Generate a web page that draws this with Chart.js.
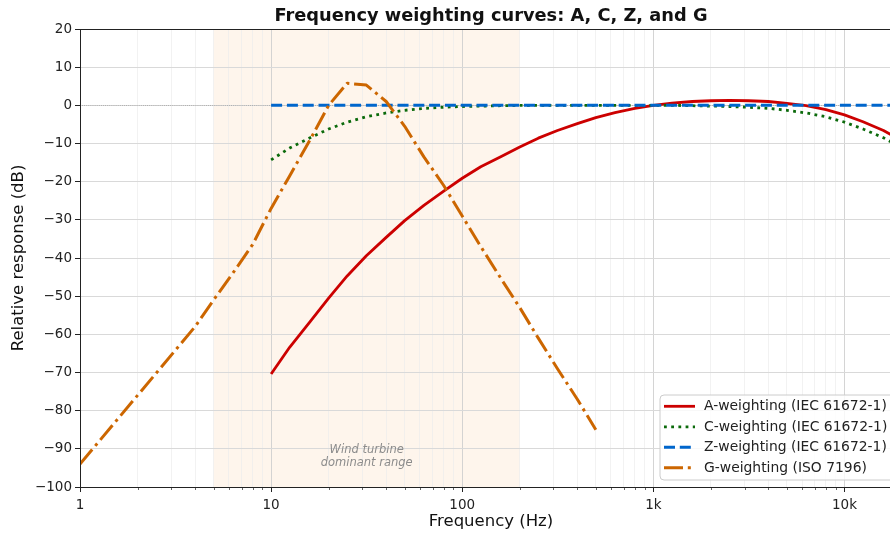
<!DOCTYPE html>
<html>
<head>
<meta charset="utf-8">
<script src="https://cdn.jsdelivr.net/npm/chart.js@4.4.0/dist/chart.umd.min.js"></script>
<style>
  html, body { margin: 0; padding: 0; background: #fff; overflow: hidden; }
  #wrap { width: 910px; height: 533px; }
</style>
</head>
<body>
<div id="wrap"><canvas id="myChart" width="910" height="533"></canvas></div>
<script>
// third-octave band centres used for A, C and Z
const freqBands = [10, 12.5, 16, 20, 25, 31.5, 40, 50, 63, 80, 100, 125, 160, 200, 250, 315, 400, 500,
  630, 800, 1000, 1250, 1600, 2000, 2500, 3150, 4000, 5000, 6300, 8000, 10000, 12500, 16000, 20000];
const aWeight = [-70.4, -63.4, -56.7, -50.5, -44.7, -39.4, -34.6, -30.2, -26.2, -22.5, -19.1, -16.1, -13.4, -10.9,
  -8.6, -6.6, -4.8, -3.2, -1.9, -0.8, 0, 0.6, 1.0, 1.2, 1.3, 1.2, 1.0, 0.5, -0.1, -1.1, -2.5, -4.3, -6.6, -9.3];
const cWeight = [-14.3, -11.2, -8.5, -6.2, -4.4, -3.0, -2.0, -1.3, -0.8, -0.5, -0.3, -0.2, -0.1, 0, 0, 0, 0, 0,
  0, 0, 0, 0, -0.1, -0.2, -0.3, -0.5, -0.8, -1.3, -2.0, -3.0, -4.4, -6.2, -8.5, -11.2];
const zWeight = [0, 0, 0, 0, 0, 0, 0, 0, 0, 0, 0, 0, 0, 0, 0, 0, 0, 0,
  0, 0, 0, 0, 0, 0, 0, 0, 0, 0, 0, 0, 0, 0, 0, 0];

// G-weighting
const gFreq = [1, 2, 4, 5, 6.3, 8, 10, 12.5, 16, 20, 25, 31.5, 40, 50, 63, 80, 100, 125, 160, 200, 250, 315, 400, 500];
const gWeight = [-94, -76, -58, -51, -44, -36.5, -27, -18.5, -9, 0, 5.8, 5.3, 1, -5.5, -13.5, -21, -29, -37,
  -45.5, -53, -61, -69, -77, -85];

const xTickLabels = { 1: "1", 10: "10", 100: "100", 1000: "1k", 10000: "10k" };
const seriesNames = ["A-weighting (IEC 61672-1)", "C-weighting (IEC 61672-1)", "Z-weighting (IEC 61672-1)", "G-weighting (ISO 7196)"];
const spanFrom = 5, spanTo = 200;

const FONT = "'DejaVu Sans', sans-serif";

function toPoints(xs, ys) {
  return xs.map((x, i) => ({ x: x, y: ys[i] }));
}
function isDecade(v) {
  const l = Math.log10(v);
  return Math.abs(l - Math.round(l)) < 1e-9;
}

const datasets = [
  { label: seriesNames[0], data: toPoints(freqBands, aWeight), borderColor: "#cc0000", borderWidth: 2.8, borderDash: [], order: 3 },
  { label: seriesNames[1], data: toPoints(freqBands, cWeight), borderColor: "#0b6a0b", borderWidth: 2.8, borderDash: [2.8, 4.4], order: 2 },
  { label: seriesNames[2], data: toPoints(freqBands, zWeight), borderColor: "#0066cc", borderWidth: 3, borderDash: [11, 4.8], order: 1 },
  { label: seriesNames[3], data: toPoints(gFreq, gWeight), borderColor: "#cc6600", borderWidth: 3, borderDash: [19, 4.8, 3, 4.8], order: 0 },
].map(d => Object.assign(d, { pointRadius: 0, tension: 0, fill: false, borderCapStyle: "butt", borderJoinStyle: "round" }));

const decor = {
  id: "decor",
  beforeDraw(chart) {
    const ctx = chart.ctx, a = chart.chartArea, xs = chart.scales.x;
    ctx.save();
    ctx.fillStyle = "#fff";
    ctx.fillRect(0, 0, chart.width, chart.height);
    const x0 = xs.getPixelForValue(spanFrom), x1 = xs.getPixelForValue(spanTo);
    ctx.fillStyle = "rgba(242,140,40,0.09)";
    ctx.fillRect(x0, a.top, x1 - x0, a.bottom - a.top);
    ctx.restore();
  },
  beforeDatasetsDraw(chart) {
    const ctx = chart.ctx, a = chart.chartArea, ys = chart.scales.y;
    const y0 = Math.round(ys.getPixelForValue(0)) + 0.5;
    ctx.save();
    ctx.strokeStyle = "#9a9a9a";
    ctx.lineWidth = 0.8;
    ctx.setLineDash([0.8, 1.3]);
    ctx.beginPath();
    ctx.moveTo(a.left, y0);
    ctx.lineTo(a.right, y0);
    ctx.stroke();
    ctx.restore();
  },
  afterDatasetsDraw(chart) {
    const ctx = chart.ctx, xs = chart.scales.x, ys = chart.scales.y;
    const cx = xs.getPixelForValue(Math.sqrt(spanFrom * spanTo));
    const cy = ys.getPixelForValue(-92);
    ctx.save();
    ctx.fillStyle = "#8c8c8c";
    ctx.font = "italic 11.5px " + FONT;
    ctx.textAlign = "center";
    ctx.textBaseline = "middle";
    ctx.fillText("Wind turbine", cx, cy - 6.3);
    ctx.fillText("dominant range", cx, cy + 6.3);
    ctx.restore();
  },
  afterDraw(chart) {
    const ctx = chart.ctx, a = chart.chartArea, xs = chart.scales.x;
    ctx.save();
    // spines
    ctx.strokeStyle = "#222";
    ctx.lineWidth = 1;
    ctx.strokeRect(Math.round(a.left) + 0.5, Math.round(a.top) + 0.5, a.right - a.left, a.bottom - a.top);
    // minor x ticks
    ctx.beginPath();
    xs.ticks.forEach(t => {
      if (t.major) return;
      const px = Math.round(xs.getPixelForValue(t.value)) + 0.5;
      ctx.moveTo(px, a.bottom);
      ctx.lineTo(px, a.bottom + 3);
    });
    ctx.lineWidth = 0.7;
    ctx.stroke();
    // title and axis labels
    ctx.fillStyle = "#111";
    ctx.textAlign = "center";
    ctx.textBaseline = "middle";
    ctx.font = "bold 17.8px " + FONT;
    ctx.fillText("Frequency weighting curves: A, C, Z, and G", (a.left + a.right) / 2, 16);
    ctx.font = "16.5px " + FONT;
    ctx.fillText("Frequency (Hz)", (a.left + a.right) / 2, 522);
    ctx.save();
    ctx.translate(19, (a.top + a.bottom) / 2);
    ctx.rotate(-Math.PI / 2);
    ctx.fillText("Relative response (dB)", 0, 0);
    ctx.restore();
    // legend, lower right inside the axes
    const bx = 660, by = 395, bw = 250, bh = 85, r = 4;
    ctx.beginPath();
    ctx.moveTo(bx + r, by);
    ctx.lineTo(bx + bw - r, by);
    ctx.arcTo(bx + bw, by, bx + bw, by + r, r);
    ctx.lineTo(bx + bw, by + bh - r);
    ctx.arcTo(bx + bw, by + bh, bx + bw - r, by + bh, r);
    ctx.lineTo(bx + r, by + bh);
    ctx.arcTo(bx, by + bh, bx, by + bh - r, r);
    ctx.lineTo(bx, by + r);
    ctx.arcTo(bx, by, bx + r, by, r);
    ctx.closePath();
    ctx.fillStyle = "rgba(255,255,255,0.8)";
    ctx.fill();
    ctx.strokeStyle = "#cccccc";
    ctx.lineWidth = 1;
    ctx.stroke();
    ctx.font = "13.9px " + FONT;
    ctx.textAlign = "left";
    chart.data.datasets.forEach((d, i) => {
      const ly = by + 11.3 + i * 20.5;
      ctx.beginPath();
      ctx.strokeStyle = d.borderColor;
      ctx.lineWidth = d.borderWidth;
      ctx.setLineDash(d.borderDash);
      ctx.moveTo(664, ly);
      ctx.lineTo(695, ly);
      ctx.stroke();
      ctx.setLineDash([]);
      ctx.fillStyle = "#222";
      ctx.fillText(d.label, 704, ly + 0.5);
    });
    ctx.restore();
  }
};

const ctx = document.getElementById("myChart").getContext("2d");
new Chart(ctx, {
  type: "line",
  data: { datasets: datasets },
  options: {
    responsive: false,
    animation: false,
    devicePixelRatio: 1,
    layout: { padding: { top: 29, right: 8, left: 0, bottom: 0 } },
    plugins: { legend: { display: false }, tooltip: { enabled: false }, title: { display: false } },
    scales: {
      x: {
        type: "logarithmic",
        min: 1,
        max: 20000,
        afterFit: s => { s.height = 46; },
        afterBuildTicks: s => {
          const ticks = [];
          for (let dec = 1; dec <= 10000; dec *= 10) {
            for (let m = 1; m <= 9; m++) {
              const v = m * dec;
              if (v > 20000) break;
              ticks.push({ value: v, major: m === 1 });
            }
          }
          s.ticks = ticks;
        },
        border: { display: false },
        grid: {
          color: c => (c.tick && isDecade(c.tick.value)) ? "#cfcfcf" : "#ececec",
          lineWidth: c => (c.tick && isDecade(c.tick.value)) ? 0.9 : 0.7,
          tickColor: c => (c.tick && isDecade(c.tick.value)) ? "#222" : "rgba(0,0,0,0)",
          tickWidth: 1,
          tickLength: 5
        },
        ticks: {
          autoSkip: false,
          maxRotation: 0,
          padding: 5,
          color: "#222",
          font: { family: FONT, size: 13.5 },
          callback: v => xTickLabels[v] || ""
        }
      },
      y: {
        min: -100,
        max: 20,
        afterFit: s => { s.width = 80; },
        border: { display: false },
        grid: { color: "#d9d9d9", lineWidth: 1, tickColor: "#222", tickLength: 5 },
        ticks: {
          stepSize: 10,
          padding: 3,
          color: "#222",
          font: { family: FONT, size: 13.5 },
          callback: v => String(v).replace("-", "\u2212")
        }
      }
    }
  },
  plugins: [decor]
});
</script>
</body>
</html>
